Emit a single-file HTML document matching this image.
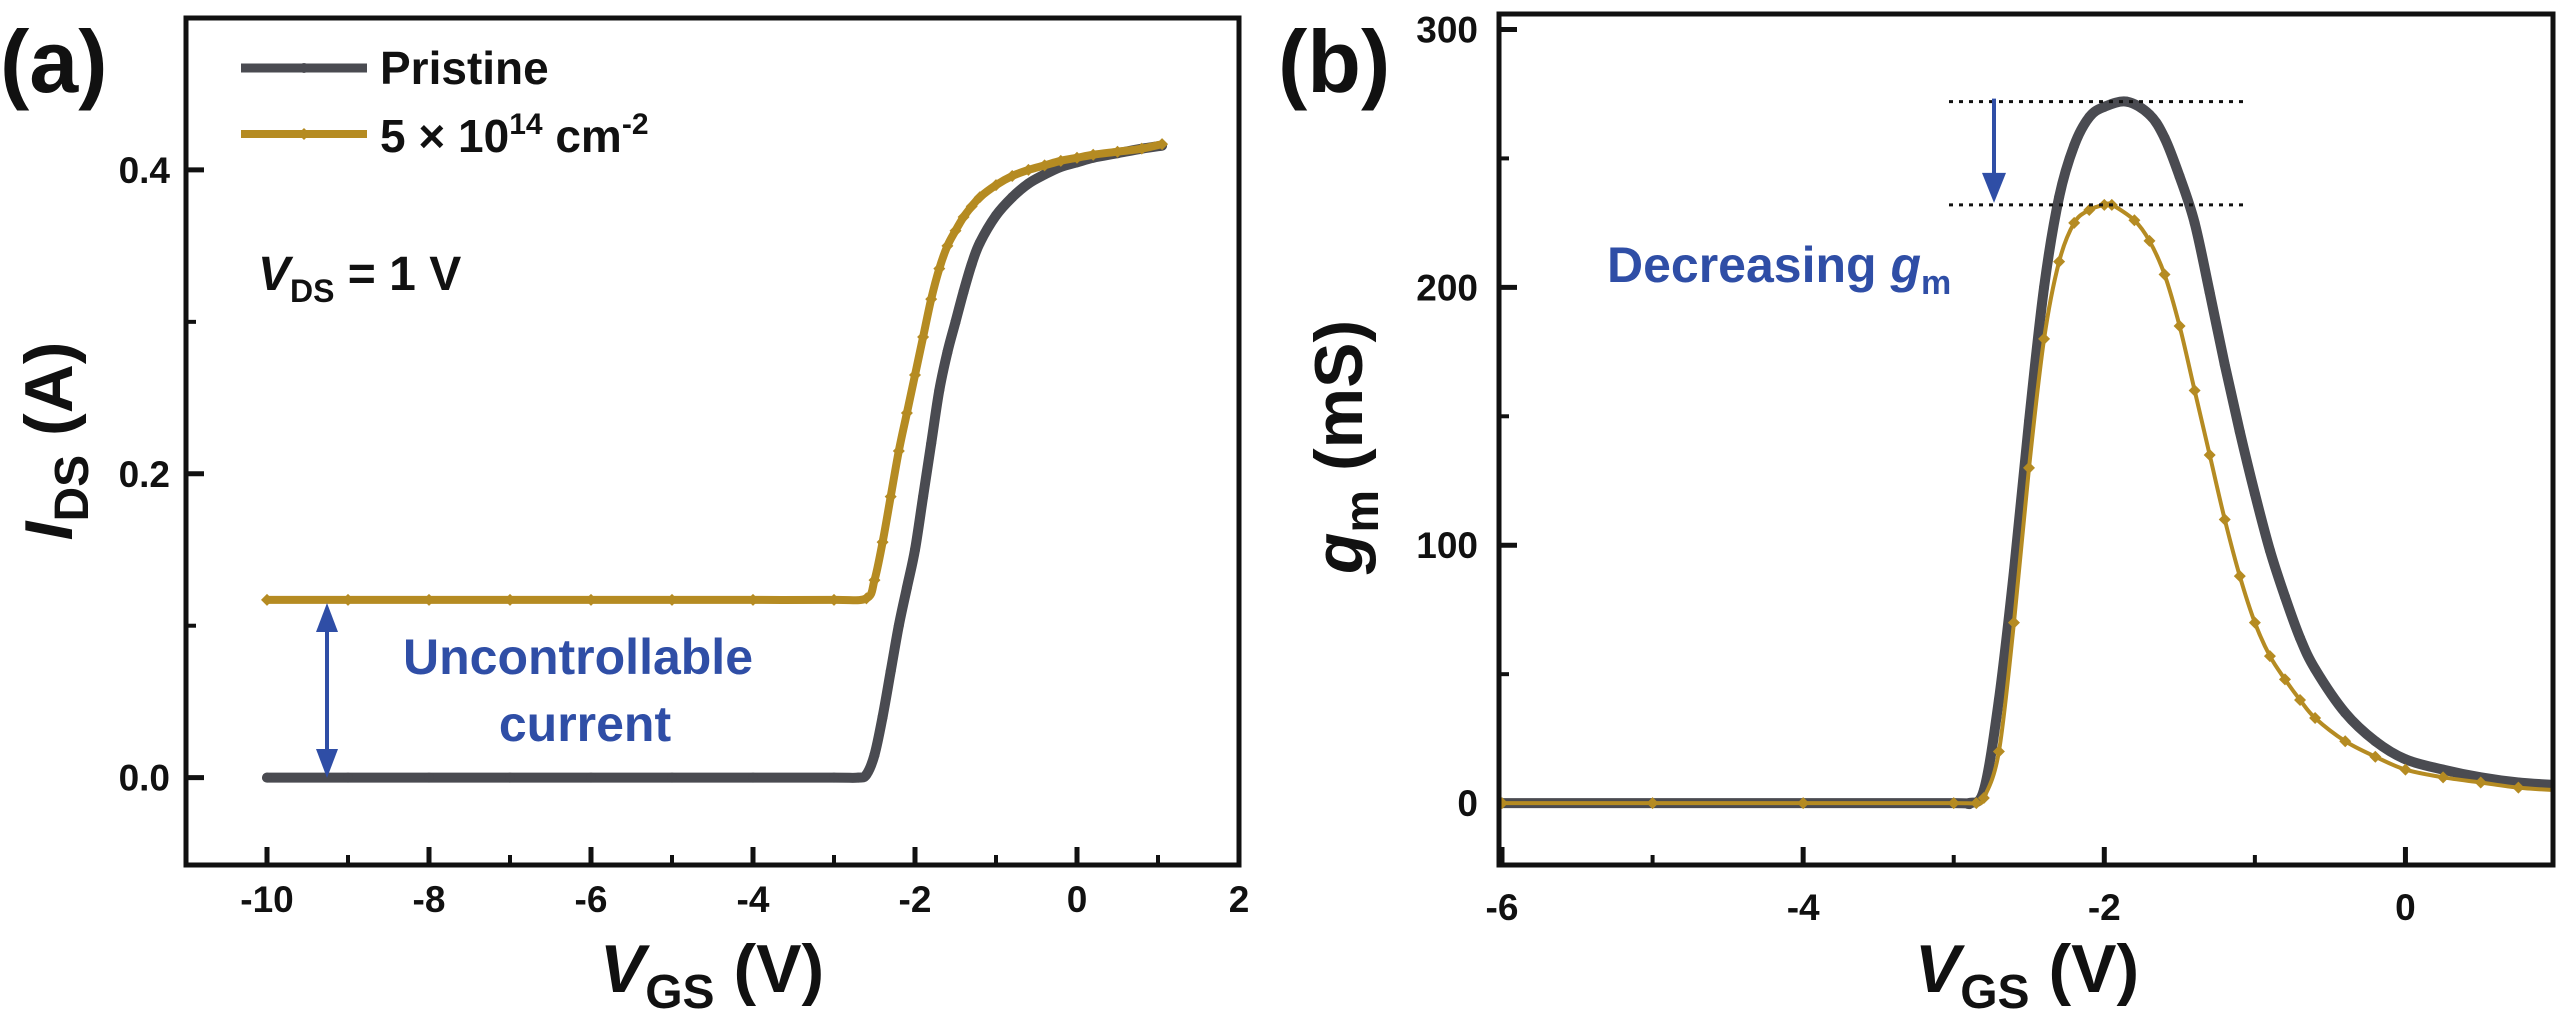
<!DOCTYPE html>
<html><head><meta charset="utf-8">
<style>
html,body{margin:0;padding:0;background:#fff;}
svg{display:block;font-family:"Liberation Sans",Arial,sans-serif;font-weight:bold;}
</style></head>
<body>
<svg id="chart" width="2559" height="1013" viewBox="0 0 2559 1013" xmlns="http://www.w3.org/2000/svg">
<g id="pa"></g>
<g id="pb"></g>
</svg>
<script>
// Panel (a) data
const aPristineX = [-10,-9,-8,-7,-6,-5,-4,-3,-2.7,-2.6,-2.5,-2.4,-2.3,-2.2,-2.1,-2.0,-1.9,-1.8,-1.7,-1.6,-1.5,-1.4,-1.3,-1.2,-1.0,-0.8,-0.6,-0.4,-0.2,0,0.2,0.5,0.8,1.05];
const aPristineY = [0,0,0,0,0,0,0,0,0,0.002,0.015,0.04,0.07,0.10,0.125,0.15,0.185,0.22,0.255,0.28,0.30,0.32,0.338,0.352,0.37,0.382,0.391,0.397,0.402,0.405,0.408,0.411,0.414,0.416];
const aDopedX = [-10,-9,-8,-7,-6,-5,-4,-3,-2.6,-2.5,-2.4,-2.3,-2.2,-2.1,-2.0,-1.9,-1.8,-1.7,-1.6,-1.5,-1.4,-1.3,-1.2,-1.0,-0.8,-0.6,-0.4,-0.2,0,0.2,0.5,0.8,1.05];
const aDopedY = [0.117,0.117,0.117,0.117,0.117,0.117,0.117,0.117,0.118,0.13,0.155,0.185,0.215,0.24,0.265,0.29,0.315,0.335,0.35,0.36,0.369,0.376,0.382,0.39,0.396,0.400,0.403,0.406,0.408,0.410,0.412,0.414,0.417];
const aXTicks = [-10,-8,-6,-4,-2,0,2];
const aXTickLabels = ["-10","-8","-6","-4","-2","0","2"];
const aYTicks = [0,0.2,0.4];
const aYTickLabels = ["0.0","0.2","0.4"];
// Panel (b) data
const bPristineX = [-6,-5,-4,-3,-2.9,-2.8,-2.7,-2.6,-2.5,-2.4,-2.3,-2.2,-2.1,-2.0,-1.85,-1.7,-1.6,-1.5,-1.4,-1.3,-1.2,-1.1,-1.0,-0.9,-0.8,-0.7,-0.6,-0.4,-0.2,0,0.25,0.5,0.75,1.0];
const bPristineY = [0,0,0,0,0,5,40,90,148,200,235,255,266,270,272,267,258,243,225,198,170,144,120,98,80,64,52,35,24,17,13,10,8,7];
const bDopedX = [-6,-5,-4,-3,-2.85,-2.8,-2.7,-2.6,-2.5,-2.4,-2.3,-2.2,-2.1,-2.0,-1.95,-1.8,-1.7,-1.6,-1.5,-1.4,-1.3,-1.2,-1.1,-1.0,-0.9,-0.8,-0.7,-0.6,-0.4,-0.2,0,0.25,0.5,0.75,1.0];
const bDopedY = [0,0,0,0,0,2,20,70,130,180,210,225,230,232,232,226,218,205,185,160,135,110,88,70,57,48,40,33,24,18,13,10,8,6,5];
const bXTicks = [-6,-4,-2,0];
const bXTickLabels = ["-6","-4","-2","0"];
const bYTicks = [0,100,200,300];
const bYTickLabels = ["0","100","200","300"];
const bPeakLevels = [272,232];

const NS="http://www.w3.org/2000/svg";
const GRAY="#4a4b51", GOLD="#b58b22", BLUE="#2f4ea6";
function mk(parent,tag,attrs,text){const e=document.createElementNS(NS,tag);for(const k in attrs)e.setAttribute(k,attrs[k]);if(text!==undefined)e.textContent=text;parent.appendChild(e);return e;}
function linScale(d0,d1,r0,r1){return v=>r0+(v-d0)*(r1-r0)/(d1-d0);}

function smoothPath(pts){
  let d=`M${pts[0][0]},${pts[0][1]}`;
  for(let i=0;i<pts.length-1;i++){
    const p0=pts[Math.max(0,i-1)],p1=pts[i],p2=pts[i+1],p3=pts[Math.min(pts.length-1,i+2)];
    const c1x=p1[0]+(p2[0]-p0[0])/6,c1y=p1[1]+(p2[1]-p0[1])/6;
    const c2x=p2[0]-(p3[0]-p1[0])/6,c2y=p2[1]-(p3[1]-p1[1])/6;
    d+=` C${c1x},${c1y} ${c2x},${c2y} ${p2[0]},${p2[1]}`;
  }
  return d;
}

function drawPanel(g,cfg){
  const {L,R,T,B,xd,yd,xTicks,xLabels,yTicks,yLabels,xMinor,yMinor}=cfg;
  const sx=linScale(xd[0],xd[1],L,R), sy=linScale(yd[0],yd[1],B,T);
  xTicks.forEach((v,i)=>{
    const t=mk(g,'line',{x1:sx(v),x2:sx(v),y1:B,y2:B-18,stroke:'#111','stroke-width':5});
    
    
    const l=mk(g,'text',{x:sx(v),y:cfg.xLabY,'text-anchor':'middle','font-size':37,fill:'#111'},xLabels[i]);
    
    
  });
  xMinor.forEach(v=>{mk(g,'line',{x1:sx(v),x2:sx(v),y1:B,y2:B-10,stroke:'#111','stroke-width':4});});
  yTicks.forEach((v,i)=>{
    const t=mk(g,'line',{x1:L,x2:L+18,y1:sy(v),y2:sy(v),stroke:'#111','stroke-width':5});
    
    
    const l=mk(g,'text',{x:cfg.yLabX,y:sy(v)+(cfg.yLabDy||13),'text-anchor':'end','font-size':37,fill:'#111'},yLabels[i]);
    
    
  });
  yMinor.forEach(v=>{mk(g,'line',{x1:L,x2:L+10,y1:sy(v),y2:sy(v),stroke:'#111','stroke-width':4});});
  return {sx,sy};
}

function drawSeries(g,xs,ys,sx,sy,color,w,name,marker,msz){
  const pts=xs.map((x,i)=>[sx(x),sy(ys[i])]);
  const p=mk(g,'path',{d:smoothPath(pts),fill:'none',stroke:color,'stroke-width':w,'stroke-linejoin':'round','stroke-linecap':'round'});
  
  
  pts.forEach(q=>{
    if(marker==='diamond'){
      const m=mk(g,'path',{d:`M${q[0]},${q[1]-msz} L${q[0]+msz},${q[1]} L${q[0]},${q[1]+msz} L${q[0]-msz},${q[1]}Z`,fill:color});
      
      
    } else {
      const m=mk(g,'circle',{cx:q[0],cy:q[1],r:msz,fill:color});
      
      
    }
  });
}

// ---------- Panel A ----------
const ga=document.getElementById('pa');
const A={L:186,R:1239,T:18,B:865,xd:[-11,2],yd:[-0.0575,0.5],xTicks:aXTicks,xLabels:aXTickLabels,yTicks:aYTicks,yLabels:aYTickLabels,
  xMinor:[-9,-7,-5,-3,-1,1],yMinor:[0.1,0.3],xLabY:912,yLabX:170};
const sa=drawPanel(ga,A);
const clipA=mk(ga,'clipPath',{id:'clipA'});mk(clipA,'rect',{x:A.L,y:A.T,width:A.R-A.L,height:A.B-A.T});
const gaData=mk(ga,'g',{'clip-path':'url(#clipA)'});
drawSeries(gaData,aPristineX,aPristineY,sa.sx,sa.sy,GRAY,10,'pristine-line-a','circle',5);
drawSeries(gaData,aDopedX,aDopedY,sa.sx,sa.sy,GOLD,8,'doped-line-a','diamond',6);
const fa=mk(ga,'rect',{x:A.L,y:A.T,width:A.R-A.L,height:A.B-A.T,fill:'none',stroke:'#111','stroke-width':5});


// ---------- Panel B ----------
const gb=document.getElementById('pb');
const Bc={L:1499,R:2553,T:14,B:865,xd:[-6.02,0.98],yd:[-24,306],xTicks:bXTicks,xLabels:bXTickLabels,yTicks:bYTicks,yLabels:bYTickLabels,
  xMinor:[-5,-3,-1],yMinor:[50,150,250],xLabY:920,yLabX:1478,yLabDy:13};
const sb=drawPanel(gb,Bc);
const clipB=mk(gb,'clipPath',{id:'clipB'});mk(clipB,'rect',{x:Bc.L,y:Bc.T,width:Bc.R-Bc.L,height:Bc.B-Bc.T});
const gbData=mk(gb,'g',{'clip-path':'url(#clipB)'});
drawSeries(gbData,bPristineX,bPristineY,sb.sx,sb.sy,GRAY,10,'pristine-line-b','circle',5);
drawSeries(gbData,bDopedX,bDopedY,sb.sx,sb.sy,GOLD,4,'doped-line-b','diamond',6);
const fb=mk(gb,'rect',{x:Bc.L,y:Bc.T,width:Bc.R-Bc.L,height:Bc.B-Bc.T,fill:'none',stroke:'#111','stroke-width':5});

bPeakLevels.forEach(v=>{
  const l=mk(gb,'line',{x1:1949,x2:2245,y1:sb.sy(v),y2:sb.sy(v),stroke:'#111','stroke-width':3,'stroke-dasharray':'4 6'});
  
  
});
const arrB=mk(gb,'g',{});


mk(arrB,'line',{x1:1994,x2:1994,y1:sb.sy(bPeakLevels[0])-3,y2:sb.sy(bPeakLevels[1])-20,stroke:BLUE,'stroke-width':4});
mk(arrB,'path',{d:`M1982,${sb.sy(bPeakLevels[1])-32} L2006,${sb.sy(bPeakLevels[1])-32} L1994,${sb.sy(bPeakLevels[1])-2}Z`,fill:BLUE});
</script>
<script>
(function(){
const svg=document.getElementById('chart');
svg.insertAdjacentHTML('beforeend',`
<text x="0" y="92" font-size="88" fill="#111">(a)</text>
<text x="1278" y="92" font-size="88" fill="#111">(b)</text>
<g>
  <g>
    <line x1="241" x2="367" y1="68" y2="68" stroke="#4a4b51" stroke-width="9"/>
    <circle cx="304" cy="68" r="5" fill="#4a4b51"/>
    <text x="380" y="84" font-size="46" fill="#111">Pristine</text>
  </g>
  <g>
    <line x1="241" x2="367" y1="134" y2="134" stroke="#b58b22" stroke-width="8"/>
    <path d="M304,128 L310,134 L304,140 L298,134Z" fill="#b58b22"/>
    <text x="380" y="152" font-size="46" fill="#111">5 × 10<tspan dy="-18" font-size="30">14</tspan><tspan dy="18"> cm</tspan><tspan dy="-18" font-size="30">-2</tspan></text>
  </g>
</g>
<text x="258" y="290" font-size="48" fill="#111"><tspan font-style="italic">V</tspan><tspan dy="12" font-size="32">DS</tspan><tspan dy="-12"> = 1 V</tspan></text>
<g>
  <line x1="327" x2="327" y1="625" y2="756" stroke="#2f4ea6" stroke-width="4"/>
  <path d="M316,632 L338,632 L327,603Z" fill="#2f4ea6"/>
  <path d="M316,749 L338,749 L327,778Z" fill="#2f4ea6"/>
</g>
<text x="578" y="674" text-anchor="middle" font-size="50" fill="#2f4ea6">Uncontrollable</text>
<text x="585" y="741" text-anchor="middle" font-size="50" fill="#2f4ea6">current</text>
<text x="1607" y="282" font-size="50" fill="#2f4ea6">Decreasing <tspan font-style="italic">g</tspan><tspan dy="12" font-size="34">m</tspan></text>
<text transform="translate(72,441) rotate(-90)" text-anchor="middle" font-size="68" fill="#111"><tspan font-style="italic">I</tspan><tspan dy="16" font-size="48">DS</tspan><tspan dy="-16"> (A)</tspan></text>
<text x="712" y="992" text-anchor="middle" font-size="68" fill="#111"><tspan font-style="italic">V</tspan><tspan dy="16" font-size="48">GS</tspan><tspan dy="-16"> (V)</tspan></text>
<text transform="translate(1362,447) rotate(-90)" text-anchor="middle" font-size="68" fill="#111"><tspan font-style="italic">g</tspan><tspan dy="16" font-size="48">m</tspan><tspan dy="-16"> (mS)</tspan></text>
<text x="2027" y="992" text-anchor="middle" font-size="68" fill="#111"><tspan font-style="italic">V</tspan><tspan dy="16" font-size="48">GS</tspan><tspan dy="-16"> (V)</tspan></text>
`);
})();
</script>
</body></html>
